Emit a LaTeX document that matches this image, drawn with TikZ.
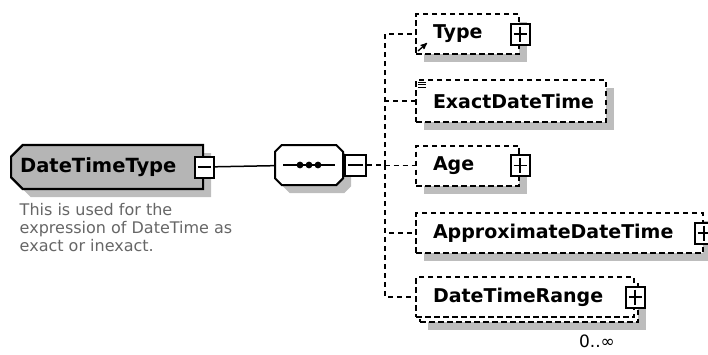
\documentclass[tikz,border=0pt]{standalone}
\usepackage{fontspec}
\setmainfont{DejaVu Sans}
\usetikzlibrary{arrows, shapes.misc, shadows}

\definecolor{boxgray}{gray}{0.71}
\definecolor{shadegray}{gray}{0.74}
\definecolor{notegray}{gray}{0.40}

\begin{document}
\begin{tikzpicture}[x=1pt,y=-1pt,>=stealth',line width=1.5pt,
        boxshadow/.style={drop shadow={shadow xshift=8pt,shadow yshift=-8pt,fill=shadegray,opacity=1}},
        typebox/.style={chamfered rectangle,chamfered rectangle corners={north west,south west},
            chamfered rectangle xsep=8pt,draw,line width=2.2pt,fill=boxgray,boxshadow,
            inner xsep=0pt,align=left,font=\bfseries\fontsize{19.5}{22}\selectfont},
        seqbox/.style={chamfered rectangle,chamfered rectangle xsep=9pt,draw,line width=2pt,
            fill=white,boxshadow},
        optelem/.style={draw,dash pattern=on 5.5pt off 3.5pt,line width=2pt,fill=white,anchor=west,
            minimum height=40pt,inner xsep=0pt,align=left,font=\bfseries\fontsize{19}{22}\selectfont},
        minusbox/.style={draw,solid,line width=2pt,fill=white,minimum width=19pt,minimum height=21pt,
            inner sep=0pt,path picture={\draw[line width=1.4pt] ([xshift=3pt]path picture bounding box.west)
            -- ([xshift=-3pt]path picture bounding box.east);}},
        plusbox/.style={minusbox,path picture={\draw[line width=1.4pt] ([xshift=3pt]path picture bounding box.west)
            -- ([xshift=-3pt]path picture bounding box.east);
            \draw[line width=1.4pt] ([yshift=-3pt]path picture bounding box.north)
            -- ([yshift=3pt]path picture bounding box.south);}},
        conn/.style={dash pattern=on 5pt off 4pt,line width=1.8pt}]

        \useasboundingbox (0,0) rectangle (708,354);

        \node at (10,167) [typebox,anchor=west,minimum width=192pt,minimum height=44pt,text width=174pt] (DTT) {DateTimeType};
        \node at (19,203) [anchor=north west,inner sep=0pt,align=left,text=notegray,
            font=\fontsize{16}{18}\selectfont] (DTTnote) {This is used for the\\expression of DateTime as\\exact or inexact.};
        \node at (DTT.east) [minusbox] (DTTminus) {};

        \node at (309,165) [seqbox,minimum width=68pt,minimum height=40pt] (Seq) {};
        \draw[line width=1.6pt] ([xshift=-26pt]Seq.center) -- ([xshift=26pt]Seq.center);
        \foreach \dx in {-9,0,9}
            \fill ([xshift=\dx pt]Seq.center) circle (3.4);
        \node at (Seq.east) [minusbox,anchor=west,minimum width=21pt,minimum height=21pt] (Seqminus) {};
        \coordinate (bus) at (385,165);

        % elements of the sequence
        \node at (415,34) [optelem,boxshadow,minimum width=103pt,text width=69pt] (Type) {Type};
        \node at (415,101) [optelem,boxshadow,minimum width=190pt,minimum height=42pt,text width=156pt] (Exact) {ExactDateTime};
        \node at (415,165.5) [optelem,boxshadow,minimum width=103pt,text width=69pt] (Age) {Age};
        \node at (415,233) [optelem,boxshadow,minimum width=287pt,text width=253pt] (Approx) {ApproximateDateTime};
        \node at (419,302) [optelem,boxshadow,minimum width=218pt] (RangeBack) {};
        \node at (415,297) [optelem,minimum width=218pt,text width=184pt] (Range) {DateTimeRange};

        \node at (Type.east) [plusbox] (Typeplus) {};
        \node at (Age.east) [plusbox] (Ageplus) {};
        \node at (Approx.east) [plusbox] (Approxplus) {};
        \node at (Range.east) [plusbox] (Rangeplus) {};
        \node at (597,341) [font=\fontsize{17}{19}\selectfont] (Rangeocc) {0..∞};

        \draw[->,line width=1.3pt] ([shift={(3,-4)}]Type.south west) -- ++(9,-8);
        \foreach \dy in {3,5.5,8}
            \draw[line width=1pt] ([shift={(3,\dy)}]Exact.north west) -- ++(8,0);

        \path (DTTminus) edge (Seq);
        \draw[conn] (Seqminus) -- (bus);
        \foreach \el in {Type,Exact,Age,Approx,Range}
            \draw[conn] (bus) |- (\el);

      \end{tikzpicture}
\end{document}
